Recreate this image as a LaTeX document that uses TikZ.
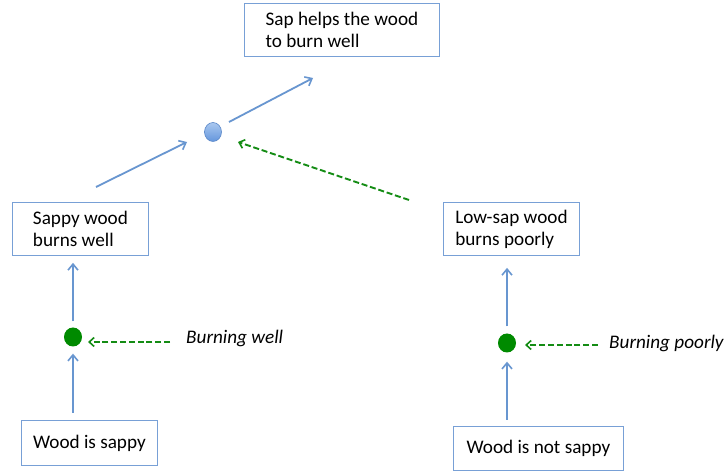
\documentclass[tikz,border=0pt]{standalone}
\usepackage{fontspec}
\setmainfont{Carlito}
\usetikzlibrary{arrows.meta,shapes.geometric}
\definecolor{boxblue}{RGB}{120,160,214}
\definecolor{arrblue}{RGB}{104,150,208}
\definecolor{dotgreen}{RGB}{0,138,0}
\definecolor{dashgreen}{RGB}{20,140,20}
\definecolor{dotlight}{RGB}{170,200,240}
\definecolor{dotdark}{RGB}{100,150,220}
\definecolor{dotedge}{RGB}{90,135,200}
\begin{document}
\begin{tikzpicture}[x=1pt,y=-1pt,
  font=\fontsize{19.2}{22}\selectfont,
  box/.style={draw=boxblue,line width=0.9pt,fill=white,rectangle,align=left,inner sep=0pt,anchor=north west},
  arr/.style={draw=arrblue,line width=1.8pt,-{Straight Barb[length=6pt,width=10pt,line width=1.6pt]}},
  garr/.style={draw=dashgreen,line width=1.9pt,dash pattern=on 6pt off 2.8pt,-{Straight Barb[length=5pt,width=9pt,line width=1.6pt]}},
  gdot/.style={ellipse,fill=dotgreen,minimum width=18pt,minimum height=19pt,inner sep=0pt},
  bdot/.style={ellipse,draw=dotedge,line width=0.6pt,top color=dotlight,bottom color=dotdark,minimum width=17pt,minimum height=19pt,inner sep=0pt},
  lab/.style={anchor=west,font=\fontsize{19.2}{22}\selectfont\itshape,inner sep=0pt}]
\useasboundingbox (0,0) rectangle (724,473);
\fill[white] (0,0) rectangle (724,473);
% boxes
\node[box,minimum width=195pt,minimum height=53pt] (top) at (244,3) {Sap helps the wood\\to burn well};
\node[box,minimum width=136pt,minimum height=53pt] (sw) at (12,202) {Sappy wood\\burns well};
\node[box,minimum width=136pt,minimum height=53pt] (ls) at (443,202) {Low-sap wood\\burns poorly};
\node[box,minimum width=136pt,minimum height=45pt] (ws) at (21,420) {Wood is sappy};
\node[box,minimum width=170pt,minimum height=44pt] (wn) at (453,426) {Wood is not sappy};
% dots
\node[bdot] (bd) at (213,132) {};
\node[gdot] (g1) at (73,337) {};
\node[gdot] (g2) at (507,343) {};
% labels
\node[lab] (bw) at (186,338) {Burning well};
\node[lab] (bp) at (609,343) {Burning poorly};
% connector ends
\coordinate (a1s) at (96,187);
\coordinate (a1e) at (187,142);
\coordinate (a2s) at (229,122);
\coordinate (a2e) at (313,78);
\coordinate (a3s) at (409,200);
\coordinate (a3e) at (238,142);
% arrows
\draw[arr] (a1s) -- (a1e);
\draw[arr] (a2s) -- (a2e);
\draw[garr] (a3s) -- (a3e);
\draw[arr,shorten <=7pt,shorten >=7pt] (ws.north -| g1) -- (g1.south);
\draw[arr,shorten <=6pt,shorten >=7pt] (g1.north) -- (g1.north |- sw.south);
\draw[arr,shorten <=6pt,shorten >=9pt] (wn.north -| g2) -- (g2.south);
\draw[arr,shorten <=7pt,shorten >=12pt] (g2.north) -- (g2.north |- ls.south);
\draw[garr,shorten <=16pt,shorten >=15pt] ([yshift=-4pt]bw.west) -- ([yshift=-4pt]bw.west -| g1.center);
\draw[garr,shorten <=11pt,shorten >=18pt] ([yshift=-2pt]bp.west) -- ([yshift=-2pt]bp.west -| g2.center);
\end{tikzpicture}
\end{document}
